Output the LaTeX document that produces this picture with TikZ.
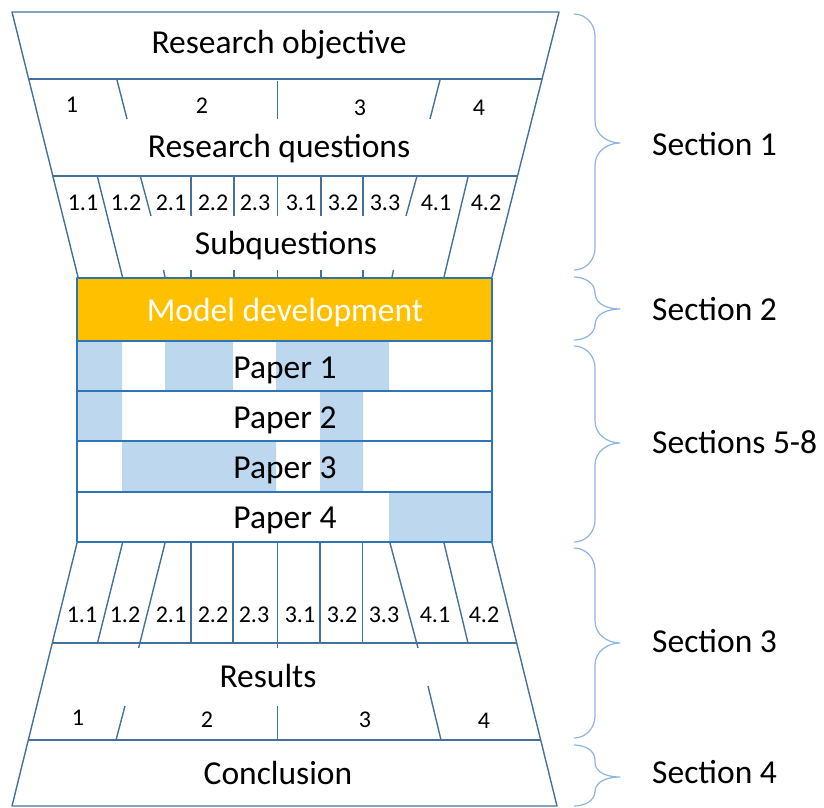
\documentclass[tikz,border=0pt]{standalone}
\usepackage{fontspec}
\setmainfont{Carlito}
\definecolor{linec}{HTML}{41719C}
\definecolor{boxc}{HTML}{2E75B6}
\definecolor{bluef}{HTML}{BDD7EE}
\definecolor{orangef}{HTML}{FFC000}
\definecolor{bracec}{HTML}{8DB4E2}
\newcommand\mybrace[4]{\draw[bracestyle] (574,#1) to[out=0,in=90] (595,#1+#4) -- (595,#2-#4) to[out=-90,in=180] (620,#2) to[out=180,in=90] (595,#2+#4) -- (595,#3-#4) to[out=-90,in=0] (574,#3);}
\begin{document}
\begin{tikzpicture}[x=1pt,y=-1pt,line join=round,
  tl/.style={draw=linec,line width=1.4pt},
  bx/.style={draw=boxc,line width=1.4pt},
  big/.style={font=\fontsize{33.5}{40}\selectfont,inner sep=0pt,anchor=base},
  small/.style={font=\fontsize{24}{28}\selectfont,inner sep=0pt,anchor=base},
  sec/.style={font=\fontsize{33.5}{40}\selectfont,inner sep=0pt,anchor=base west},
  bracestyle/.style={draw=bracec,line width=1.2pt}]
\useasboundingbox (0,0) rectangle (824,807);

% ---------- top funnel ----------
\draw[tl] (78,277) -- (12,12) -- (559,12) -- (492,277);
\draw[tl] (28,79) -- (542,79);
\draw[tl] (53,176) -- (518,176);
% research question separators
\draw[tl] (117,80) -- (127,119);
\draw[tl] (277.5,81) -- (277.5,119);
\draw[tl] (440,80) -- (430,119);
% subquestion separators
\draw[tl] (97.5,177) -- (122.5,277);
\draw[tl] (140,175) -- (151,216);
\draw[tl] (191,176) -- (191,216);
\draw[tl] (234,176) -- (234,216);
\draw[tl] (277.5,176) -- (277.5,216);
\draw[tl] (321,176) -- (321,216);
\draw[tl] (363,176) -- (363,216);
\draw[tl] (417,176) -- (406,216);
\draw[tl] (468,177) -- (444,277);
% small ticks above the model box
\draw[tl] (163.5,270) -- (165,277);
\foreach \x in {191,234,277.5,321,363} \draw[tl] (\x,270) -- (\x,277);
\draw[tl] (393.5,270) -- (392,277);

% ---------- papers ----------
\fill[bluef] (77,341) rectangle (122,391) (165,341) rectangle (233,391) (276,341) rectangle (389,391);
\fill[bluef] (77,391) rectangle (122,441) (320,391) rectangle (363,441);
\fill[bluef] (122,441) rectangle (276,492) (320,441) rectangle (363,492);
\fill[bluef] (389,492) rectangle (492,542);
\draw[bx,fill=orangef] (77,278) rectangle (492,341);
\draw[bx] (77,341) rectangle (492,542);
\draw[bx] (77,391) -- (492,391) (77,441) -- (492,441) (77,492) -- (492,492);

% ---------- bottom funnel ----------
\draw[tl] (77,543) -- (12,806) -- (557,806) -- (492,543);
\draw[tl] (52,643) -- (516,643);
\draw[tl] (28,740) -- (541,740);
\draw[tl] (122.5,543) -- (97.5,643);
\draw[tl] (165,543) -- (138.6,648);
\draw[tl] (191,543) -- (191,643);
\draw[tl] (233,543) -- (233,643);
\draw[tl] (277.5,543) -- (277.5,648);
\draw[tl] (320,543) -- (320,643);
\draw[tl] (362.5,543) -- (362.5,643);
\draw[tl] (390,543) -- (418,648);
\draw[tl] (444,543) -- (468,643);
% result separators
\draw[tl] (125,706) -- (116,740);
\draw[tl] (277.5,706) -- (277.5,740);
\draw[tl] (428,686) -- (441,740);

% ---------- texts ----------
\node[big] (obj) at (279,53) {Research objective};
\node[small] (rq1) at (72,112) {1};
\node[small] (rq2) at (202,113) {2};
\node[small] (rq3) at (360,115) {3};
\node[small] (rq4) at (479,115) {4};
\node[big] (rq) at (279,157) {Research questions};
\foreach \x/\t [count=\k] in {83/1.1,126/1.2,171/2.1,213/2.2,255/2.3,301/3.1,343/3.2,385/3.3,436/4.1,486/4.2}
  \node[small] (tq\k) at (\x,210) {\t};
\node[big] (subq) at (286,254) {Subquestions};

\node[big,text=white] (model) at (285,321) {Model development};
\node[big] (p1) at (285,378) {Paper 1};
\node[big] (p2) at (285,428) {Paper 2};
\node[big] (p3) at (285,478) {Paper 3};
\node[big] (p4) at (285,528) {Paper 4};

\foreach \x/\t [count=\k] in {82/1.1,125/1.2,171/2.1,213/2.2,254/2.3,300/3.1,342/3.2,384/3.3,435/4.1,484/4.2}
  \node[small] (bq\k) at (\x,622) {\t};
\node[big] (res) at (268,687) {Results};
\node[small] (rs1) at (78,725) {1};
\node[small] (rs2) at (207,727) {2};
\node[small] (rs3) at (365,727) {3};
\node[small] (rs4) at (484,728) {4};
\node[big] (concl) at (278,784) {Conclusion};

% ---------- braces and sections ----------
\mybrace{14}{143}{270}{22}
\mybrace{277}{309}{340}{16}
\mybrace{346}{443}{542}{22}
\mybrace{548}{643}{738}{22}
\mybrace{745}{777}{806}{15}
\node[sec] (s1) at (652,155) {Section 1};
\node[sec] (s2) at (652,320) {Section 2};
\node[sec] (s58) at (652,453) {Sections 5-8};
\node[sec] (s3) at (652,652) {Section 3};
\node[sec] (s4) at (652,783) {Section 4};
\end{tikzpicture}
\end{document}
